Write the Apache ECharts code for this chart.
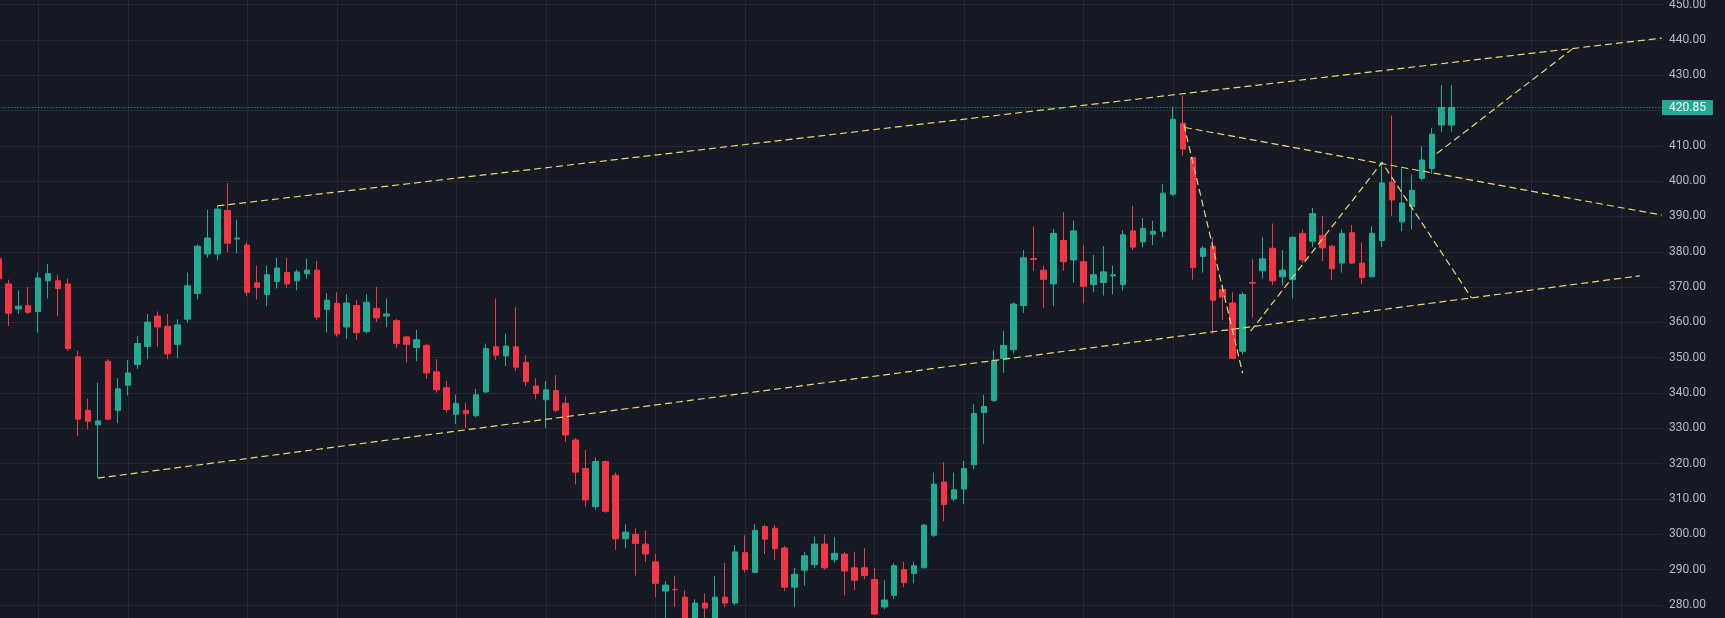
<!DOCTYPE html>
<html>
<head>
<meta charset="utf-8">
<script src="https://cdn.jsdelivr.net/npm/echarts@6/dist/echarts.min.js"></script>
<style>
html,body{margin:0;padding:0;background:#151924;overflow:hidden;}
#c{width:1725px;height:618px;}
</style>
</head>
<body>
<div id="c"></div>
<script>
// ---- candle data (index = bar number, left to right) ----
const openP = [378.0,370.9,363.8,364.8,363.1,371.8,371.8,370.9,350.3,335.1,
331.0,349.0,335.1,342.2,348.1,353.2,361.8,358.9,353.8,360.9,
368.2,379.4,379.4,391.7,383.6,381.9,371.2,367.9,371.6,374.1,
371.8,373.8,374.8,363.7,365.4,358.7,364.8,357.4,364.0,361.8,
360.5,355.9,352.9,353.5,346.0,341.5,334.0,335.1,333.6,340.3,
353.1,350.5,353.1,348.7,342.0,338.1,340.7,337.1,326.7,318.6,
307.8,320.6,316.7,298.7,300.0,297.2,292.2,283.9,284.4,282.2,
275.0,280.5,275.5,282.2,280.5,294.8,289.2,302.2,301.7,296.1,
285.0,289.8,291.4,297.2,292.8,294.4,290.5,290.5,287.2,279.4,
282.7,290.0,288.9,290.5,299.7,314.8,310.0,312.8,319.7,334.5,
337.9,349.8,352.3,364.8,378.1,374.8,370.9,383.2,377.7,377.2,
370.7,371.3,373.2,370.7,385.9,382.8,385.0,385.8,396.3,416.4,
406.7,378.7,381.6,369.3,365.5,351.8,371.3,374.6,381.0,372.9,
372.1,385.2,383.0,384.6,381.6,376.8,385.4,376.8,372.9,383.2,
399.7,388.5,392.8,400.8,403.6,415.9,415.9];

const closeP = [372.4,362.6,364.6,362.9,372.6,373.8,369.6,352.6,332.6,332.0,
332.1,332.6,341.2,345.7,354.0,360.1,358.7,351.1,359.3,370.4,
381.6,383.9,392.1,382.4,383.9,368.5,369.9,373.5,375.4,370.9,
374.3,374.8,361.5,366.3,356.8,365.5,357.1,365.7,361.3,362.4,
354.0,353.8,355.1,345.7,340.9,335.3,337.1,334.2,339.5,352.6,
350.7,353.3,347.3,343.2,339.9,340.9,335.1,328.1,317.6,309.7,
320.6,306.5,298.7,300.6,297.4,294.4,286.1,285.6,284.3,274.5,
280.5,279.1,282.2,280.5,295.0,290.0,301.1,298.6,295.9,285.0,
288.7,293.9,297.2,290.5,294.6,289.6,287.0,288.3,277.4,281.4,
291.1,286.3,291.1,302.6,314.2,308.4,312.6,318.6,334.2,336.2,
349.3,353.5,365.2,378.3,377.8,372.2,385.2,377.2,385.9,370.2,
373.5,374.3,373.5,384.8,381.3,386.6,385.8,396.6,417.5,409.1,
375.5,381.0,366.3,367.2,349.8,367.9,371.1,378.0,371.8,374.8,
384.1,377.7,390.8,381.1,375.2,385.2,376.8,372.7,385.2,399.5,
394.7,393.8,397.4,406.0,413.3,420.9,420.85];

const lowP = [371.5,359.0,362.4,362.4,357.1,366.8,361.8,352.0,327.8,329.7,
315.9,332.3,331.5,339.3,346.8,349.6,353.1,349.6,349.8,359.9,
366.5,378.3,377.6,379.9,379.6,367.4,366.5,364.6,369.6,369.8,
369.1,372.4,360.7,357.1,356.0,355.3,355.1,356.8,360.1,358.7,
352.7,348.7,349.0,344.0,340.1,334.5,331.2,330.1,333.1,340.1,
349.3,347.6,346.2,342.0,338.2,330.1,334.5,326.2,314.1,307.8,
307.0,306.1,295.6,296.1,288.3,292.2,282.2,274.0,279.4,273.5,
273.0,275.0,274.0,279.4,279.9,289.2,288.9,294.4,292.8,283.9,
279.4,285.5,290.5,290.0,291.9,282.7,284.1,287.2,277.2,278.8,
281.6,285.0,286.1,290.5,299.2,303.7,309.3,308.6,318.4,325.6,
337.5,345.7,351.2,362.7,374.6,364.0,364.6,374.6,371.3,365.4,
368.5,367.6,367.9,369.1,380.5,381.3,381.9,384.1,395.8,407.2,
372.1,374.1,356.8,360.7,349.6,350.9,361.3,372.4,370.5,370.5,
366.8,376.8,381.3,377.4,372.1,374.1,376.5,370.9,372.9,381.3,
390.2,385.8,386.3,400.2,402.1,414.0,414.0];

const highP = [378.8,372.1,369.1,370.1,374.1,376.5,373.5,372.4,352.0,338.4,
342.9,349.6,344.2,349.3,356.2,362.4,363.1,362.4,360.9,374.1,
382.1,391.9,393.0,399.5,389.1,382.7,376.1,376.1,378.3,378.3,
375.0,378.0,377.4,368.3,368.5,367.9,366.3,367.9,370.1,366.8,
361.0,356.2,357.9,354.0,349.6,343.4,339.5,337.3,341.2,354.0,
366.8,356.8,364.3,350.7,344.2,343.4,345.1,339.0,327.3,323.9,
321.7,320.9,317.5,302.8,301.7,301.1,294.4,286.7,288.3,284.1,
281.6,283.3,288.1,291.9,296.9,299.7,302.8,302.8,302.6,296.7,
290.5,295.0,299.4,300.0,299.2,295.0,295.0,296.1,290.5,287.0,
291.9,292.2,292.2,303.0,317.5,320.4,317.5,320.8,336.8,339.5,
352.0,357.6,365.7,380.5,387.2,376.1,386.5,391.3,388.8,381.9,
379.1,381.6,376.1,386.1,393.0,389.6,388.8,399.1,421.1,424.2,
406.9,381.6,384.1,370.7,368.5,368.7,377.9,384.1,388.0,380.5,
384.3,386.3,392.4,390.2,382.1,386.3,387.6,382.7,387.2,405.0,
418.6,403.6,401.9,409.9,415.0,427.2,427.2];

const lastPrice = 420.85;

// ---- drawn trend lines: [barIndex, price] endpoints ----
const upperChannel = [[22, 393.0], [167.1, 440.5]];
const lowerChannel = [[10, 315.9], [164.9, 373.2]];
const midLine      = [[119.2, 415.2], [167.1, 390.4]];
const zigDown      = [[119.1, 416.0], [125.0, 345.6]];
const zigUpDown    = [[125.8, 357.5], [139.0, 405.3], [148.0, 366.9]];
const zigUp        = [[144.5, 407.8], [158.1, 437.4]];

// ---- vertical grid lines (bar indices of time-scale marks) ----
const vGridIdx = [4, 13, 25, 34, 46, 55, 66, 75, 88, 97, 109, 118, 130, 139, 154, 163];

// ---- axis ranges ----
const xMin = -0.5, xMax = 167.13;
const yMin = 270, yMax = 460, yStep = 10;

const UP = '#22ab94', DOWN = '#f23645', GRID = '#242835', TREND = '#ecd86a';

const candles = openP.map((o, i) => [i, o, closeP[i], lowP[i], highP[i]]);

function trend(pts) {
  return {
    type: 'line', data: pts, showSymbol: false, symbol: 'none', silent: true, z: 4,
    lineStyle: { color: TREND, width: 1.2, type: [7, 4] }
  };
}

const chart = echarts.init(document.getElementById('c'), null, { renderer: 'canvas' });
chart.setOption({
  backgroundColor: '#151924',
  animation: false,
  grid: { left: -6.63, right: 63, top: -30.7, bottom: -22.2, containLabel: false, outerBoundsMode: 'none' },
  xAxis: { type: 'value', min: xMin, max: xMax, show: false },
  yAxis: {
    type: 'value', position: 'right', min: yMin, max: yMax, interval: yStep, scale: true,
    axisLine: { show: false }, axisTick: { show: false },
    splitLine: { show: true, lineStyle: { color: GRID, width: 1 } },
    axisLabel: {
      align: 'left', margin: 7, color: '#b8bbc4', fontSize: 12, fontFamily: 'Roboto, "Liberation Sans", sans-serif',
      formatter: v => v.toFixed(2)
    }
  },
  series: [
    {
      type: 'line', data: [], silent: true, z: 1,
      markLine: {
        silent: true, symbol: ['none', 'none'], label: { show: false }, z: 1,
        lineStyle: { color: GRID, type: 'solid', width: 1 },
        emphasis: { disabled: true },
        data: vGridIdx.map(v => ({ xAxis: v }))
      }
    },
    {
      type: 'candlestick', data: candles, encode: { x: 0, y: [1, 2, 3, 4] },
      barWidth: 6, z: 3, silent: true,
      itemStyle: { color: UP, color0: DOWN, borderColor: UP, borderColor0: DOWN, borderWidth: 1 },
      markLine: {
        silent: true, symbol: ['none', 'none'], z: 5,
        lineStyle: { color: UP, type: [1, 2], width: 1.2 },
        emphasis: { disabled: true },
        label: {
          show: true, position: 'end', distance: 0,
          formatter: () => lastPrice.toFixed(2),
          backgroundColor: UP, color: '#ffffff', fontSize: 12, lineHeight: 12,
          fontFamily: 'Roboto, "Liberation Sans", sans-serif',
          padding: [2, 7, 1, 7]
        },
        data: [{ yAxis: lastPrice }]
      }
    },
    trend(upperChannel),
    trend(lowerChannel),
    trend(midLine),
    trend(zigDown),
    trend(zigUpDown),
    trend(zigUp)
  ]
});
</script>
</body>
</html>
